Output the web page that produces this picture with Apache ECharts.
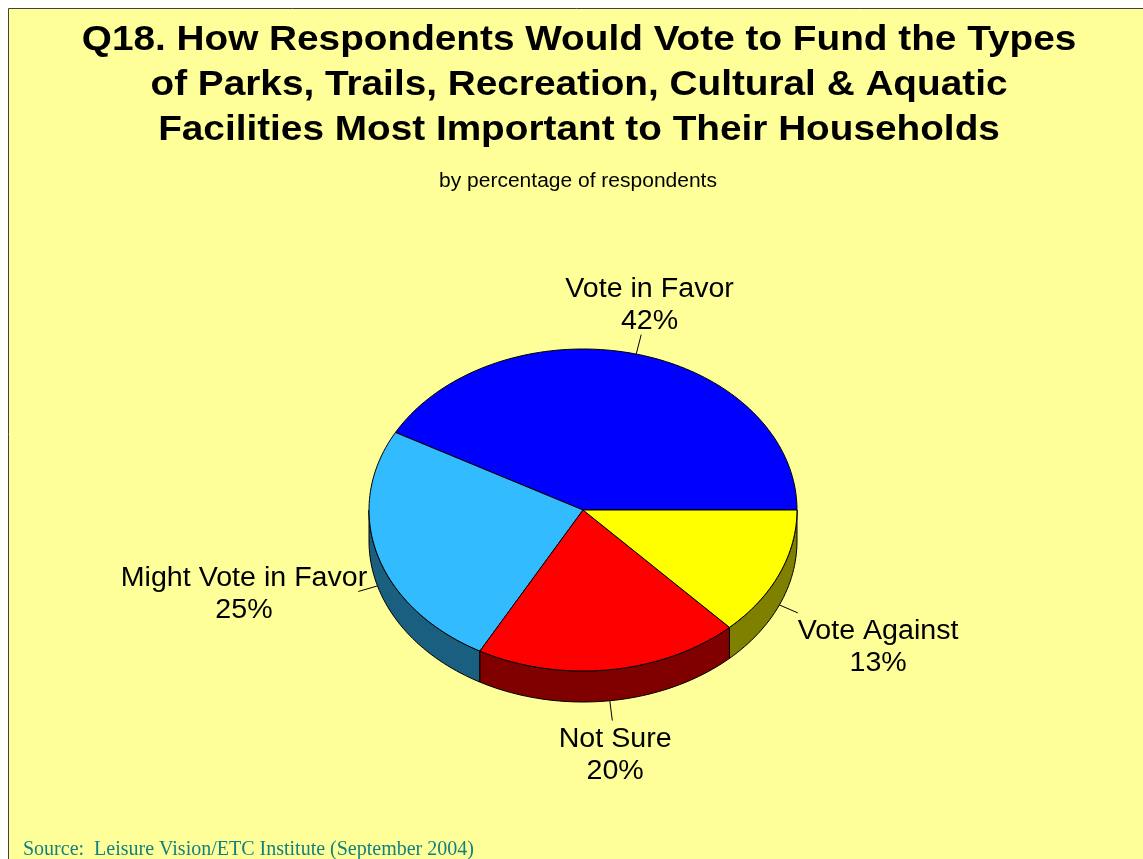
<!DOCTYPE html>
<html>
<head>
<meta charset="utf-8">
<script src="https://cdn.jsdelivr.net/npm/echarts@6/dist/echarts.min.js"></script>
<style>
  html, body { margin: 0; padding: 0; background: #ffffff; }
  #chart { width: 1143px; height: 859px; }
</style>
</head>
<body>
<div id="chart"></div>
<script>
// Survey answers and their shares (percent of respondents)
const categories = ['Vote in Favor', 'Might Vote in Favor', 'Not Sure', 'Vote Against'];
const percents = [42, 25, 20, 13];
const topColors = ['#0000ff', '#33bbff', '#ff0000', '#ffff00'];
const sideColors = ['#000080', '#1a5e80', '#800000', '#808000'];

const titleLines = [
  'Q18. How Respondents Would Vote to Fund the Types',
  'of Parks, Trails, Recreation, Cultural & Aquatic',
  'Facilities Most Important to Their Households'
];
const subtitleText = 'by percentage of respondents';
const sourceText = 'Source:  Leisure Vision/ETC Institute (September 2004)';

// Tilted pie geometry (pixels)
const PIE = { cx: 583, cy: 510, rx: 214, ry: 161, depth: 31 };
const LABEL_FONT = 27;
const LABEL_STRETCH = 1.06;
const LABEL_LINE_H = 32;
const LEADER = 20;

// Slice angles: start at 3 o'clock, run counter-clockwise
const total = percents.reduce((a, b) => a + b, 0);
const slices = [];
(function () {
  let acc = 0;
  percents.forEach((v) => {
    const a0 = acc / total * 360;
    acc += v;
    const a1 = acc / total * 360;
    slices.push({ start: a0, end: a1 });
  });
})();

function pt(deg, dy) {
  const r = deg * Math.PI / 180;
  return [PIE.cx + PIE.rx * Math.cos(r), PIE.cy - PIE.ry * Math.sin(r) + (dy || 0)];
}
function arc(a0, a1, dy) {
  const pts = [];
  const n = Math.max(2, Math.ceil(Math.abs(a1 - a0) / 1.5));
  for (let k = 0; k <= n; k++) pts.push(pt(a0 + (a1 - a0) * k / n, dy));
  return pts;
}

const measureCtx = document.createElement('canvas').getContext('2d');
function textWidth(s, font) { measureCtx.font = font; return measureCtx.measureText(s).width; }

function renderSlice(params, api) {
  const i = params.dataIndex;
  const s = slices[i];
  const children = [];

  // outer wall on the front half of the disc
  const w0 = Math.max(s.start, 180), w1 = Math.min(s.end, 360);
  if (w1 > w0) {
    const wall = arc(w0, w1, 0).concat(arc(w1, w0, PIE.depth));
    children.push({
      type: 'polygon', z2: 1,
      shape: { points: wall },
      style: { fill: sideColors[i], stroke: '#000000', lineWidth: 1, lineJoin: 'round' }
    });
  }

  // top face
  const top = [[PIE.cx, PIE.cy]].concat(arc(s.start, s.end, 0));
  children.push({
    type: 'polygon', z2: 10,
    shape: { points: top },
    style: { fill: topColors[i], stroke: '#000000', lineWidth: 1, lineJoin: 'round' }
  });

  // leader line from the rim (or the wall's lower edge on the front half)
  const mid = (s.start + s.end) / 2;
  const r = mid * Math.PI / 180;
  const ux = Math.cos(r), uy = -Math.sin(r);
  const onFront = mid > 180 && mid < 360;
  const anchor = pt(mid, onFront ? PIE.depth : 0);
  const end = [anchor[0] + ux * LEADER, anchor[1] + uy * LEADER];
  children.push({
    type: 'line', z2: 12,
    shape: { x1: anchor[0], y1: anchor[1], x2: end[0], y2: end[1] },
    style: { stroke: '#000000', lineWidth: 1 }
  });

  // label box sits beyond the leader end, on the side facing away from the pie
  const font = LABEL_FONT + 'px "Liberation Sans", Arial, sans-serif';
  const pct = Math.round(api.value(0) / total * 100) + '%';
  const w = Math.max(textWidth(categories[i], font), textWidth(pct, font)) * LABEL_STRETCH;
  const h = LABEL_LINE_H * 2;
  const oy = Math.abs(uy) > 0.3 ? Math.sign(uy) * h / 2 : 0;
  let ox = Math.abs(ux) > 0.5 ? Math.sign(ux) * w / 2 : ux * w / 2 * 0.4;
  if (oy === 0) ox -= Math.sign(ux) * 9;   // side labels tuck in over the leader end
  children.push({
    type: 'text', z2: 12,
    x: end[0] + ox, y: end[1] + oy + 3,
    scaleX: LABEL_STRETCH,
    style: {
      text: categories[i] + '\n' + pct,
      fill: '#000000',
      font: font,
      lineHeight: LABEL_LINE_H,
      align: 'center',
      verticalAlign: 'middle'
    }
  });

  return { type: 'group', children: children };
}

const chart = echarts.init(document.getElementById('chart'), null, { renderer: 'canvas' });
chart.setOption({
  animation: false,
  backgroundColor: '#ffffff',
  graphic: [
    {
      type: 'rect', z: -10,
      shape: { x: 8.5, y: 8.5, width: 1200, height: 900 },
      style: { fill: '#ffff99', stroke: '#404040', lineWidth: 1 }
    },
    {
      type: 'text', x: 579, y: 17.5, scaleX: 1.107,
      style: {
        text: titleLines.join('\n'),
        font: 'bold 35px "Liberation Sans", Arial, sans-serif',
        lineHeight: 45,
        fill: '#000000',
        align: 'center',
        verticalAlign: 'top'
      }
    },
    {
      type: 'text', x: 578, y: 181, scaleX: 1.05,
      style: {
        text: subtitleText,
        font: '20px "Liberation Sans", Arial, sans-serif',
        fill: '#000000',
        align: 'center',
        verticalAlign: 'middle'
      }
    },
    {
      type: 'text', x: 23, y: 849.5,
      style: {
        text: sourceText,
        font: '20px "Liberation Serif", "Times New Roman", serif',
        fill: '#138080',
        align: 'left',
        verticalAlign: 'middle'
      }
    }
  ],
  series: [{
    type: 'custom',
    coordinateSystem: 'none',
    renderItem: renderSlice,
    data: percents.map((v, i) => ({ name: categories[i], value: [v] }))
  }]
});
</script>
</body>
</html>
